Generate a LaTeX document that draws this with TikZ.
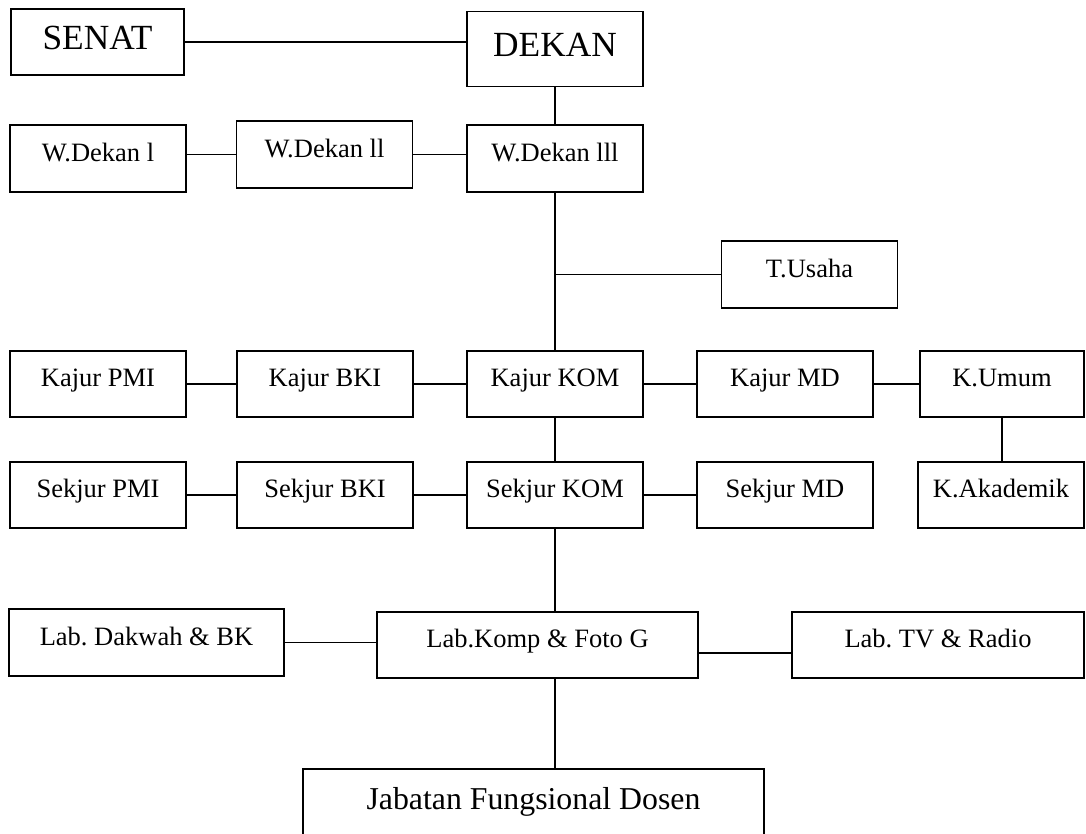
\documentclass[tikz,border=0pt]{standalone}
\usepackage{fontspec}
\setmainfont{Liberation Serif}
\usepackage{tikz}
\usetikzlibrary{positioning}

\begin{document}
\begin{tikzpicture}[
    x=0.4528pt, y=-0.4528pt,
    unitnode/.style={shape=rectangle, draw=black, line width=0.85pt, inner sep=0pt,
        minimum width=79.7pt, minimum height=30.2pt,
        font=\fontsize{12}{14}\selectfont, text height=7.5pt, text depth=5pt},
    bignode/.style={unitnode, font=\fontsize{14.4}{17}\selectfont, text height=9pt, text depth=7.2pt},
    topnode/.style={unitnode, font=\fontsize{16}{19}\selectfont, text height=11pt, text depth=4.5pt},
    link/.style={draw=black, line width=0.85pt}
]
% Page
\clip (0,0) rectangle (1086,833);

% Boxes

% top
\node[topnode, minimum width=78.3pt, minimum height=29.9pt] (senat) at (97.5,42) {SENAT};
\node[topnode, minimum height=34pt] (dekan) at (555,49) {DEKAN};

% wakil dekan
\node[unitnode] (w_dekan_1) at (98,158.5) {W.Dekan l};
\node[unitnode] (w_dekan_2) at (324.5,154.5) {W.Dekan ll};
\node[unitnode] (w_dekan_3) at (555,158.5) {W.Dekan lll};

\node[unitnode] (t_usaha) at (809.5,274.5) {T.Usaha};

% kajur
\node[unitnode] (kajur_pmi) at (98,384) {Kajur PMI};
\node[unitnode] (kajur_bki) at (325,384) {Kajur BKI};
\node[unitnode] (kajur_kom) at (555,384) {Kajur KOM};
\node[unitnode] (kajur_md) at (785,384) {Kajur MD};
\node[unitnode, minimum width=74.3pt] (k_umum) at (1002,384) {K.Umum};

% sekjur
\node[unitnode] (sekjur_pmi) at (98,495) {Sekjur PMI};
\node[unitnode] (sekjur_bki) at (325,495) {Sekjur BKI};
\node[unitnode] (sekjur_kom) at (555,495) {Sekjur KOM};
\node[unitnode] (sekjur_md) at (785,495) {Sekjur MD};
\node[unitnode, minimum width=75.2pt] (k_akademik) at (1001,495) {K.Akademik};

% lab
\node[unitnode, minimum width=124.5pt] (lab_dakwah) at (146.5,642.5) {Lab.\ Dakwah \& BK};
\node[unitnode, minimum width=145.3pt] (lab_komp) at (537.5,645) {Lab.Komp \& Foto G};
\node[unitnode, minimum width=132.2pt] (lab_tv) at (938,645) {Lab.\ TV \& Radio};

\node[bignode, minimum width=208.7pt, minimum height=34.4pt] (jabatan) at (533.5,807) {Jabatan Fungsional Dosen};

% Lines
\draw[link] (senat.east) -- (senat.east -| dekan.west);
\draw[link] (dekan.south) -- (w_dekan_3.north);
\draw[link] (w_dekan_2.west -| w_dekan_1.east) -- (w_dekan_2.west);
\draw[link] (w_dekan_2.east) -- (w_dekan_2.east -| w_dekan_3.west);

\draw[link] (w_dekan_3.south) -- (kajur_kom.north);
\draw[link] (t_usaha.west -| w_dekan_3.south) -- (t_usaha.west);

\foreach \a/\b in {kajur_pmi/kajur_bki, kajur_bki/kajur_kom, kajur_kom/kajur_md, kajur_md/k_umum,
                   sekjur_pmi/sekjur_bki, sekjur_bki/sekjur_kom, sekjur_kom/sekjur_md}
    \draw[link] (\a.east) -- (\b.west);

\draw[link] (k_umum.south) -- (k_umum.south |- k_akademik.north);
\draw[link] (kajur_kom.south) -- (sekjur_kom.north);
\draw[link] (sekjur_kom.south) -- (sekjur_kom.south |- lab_komp.north);

\draw[link] (lab_dakwah.east) -- (lab_dakwah.east -| lab_komp.west);
\draw[link] ([yshift=-3.6pt]lab_komp.east) -- ([yshift=-3.6pt]lab_komp.east -| lab_tv.west);
\draw[link] (sekjur_kom.south |- lab_komp.south) -- (sekjur_kom.south |- jabatan.north);

\end{tikzpicture}
\end{document}
